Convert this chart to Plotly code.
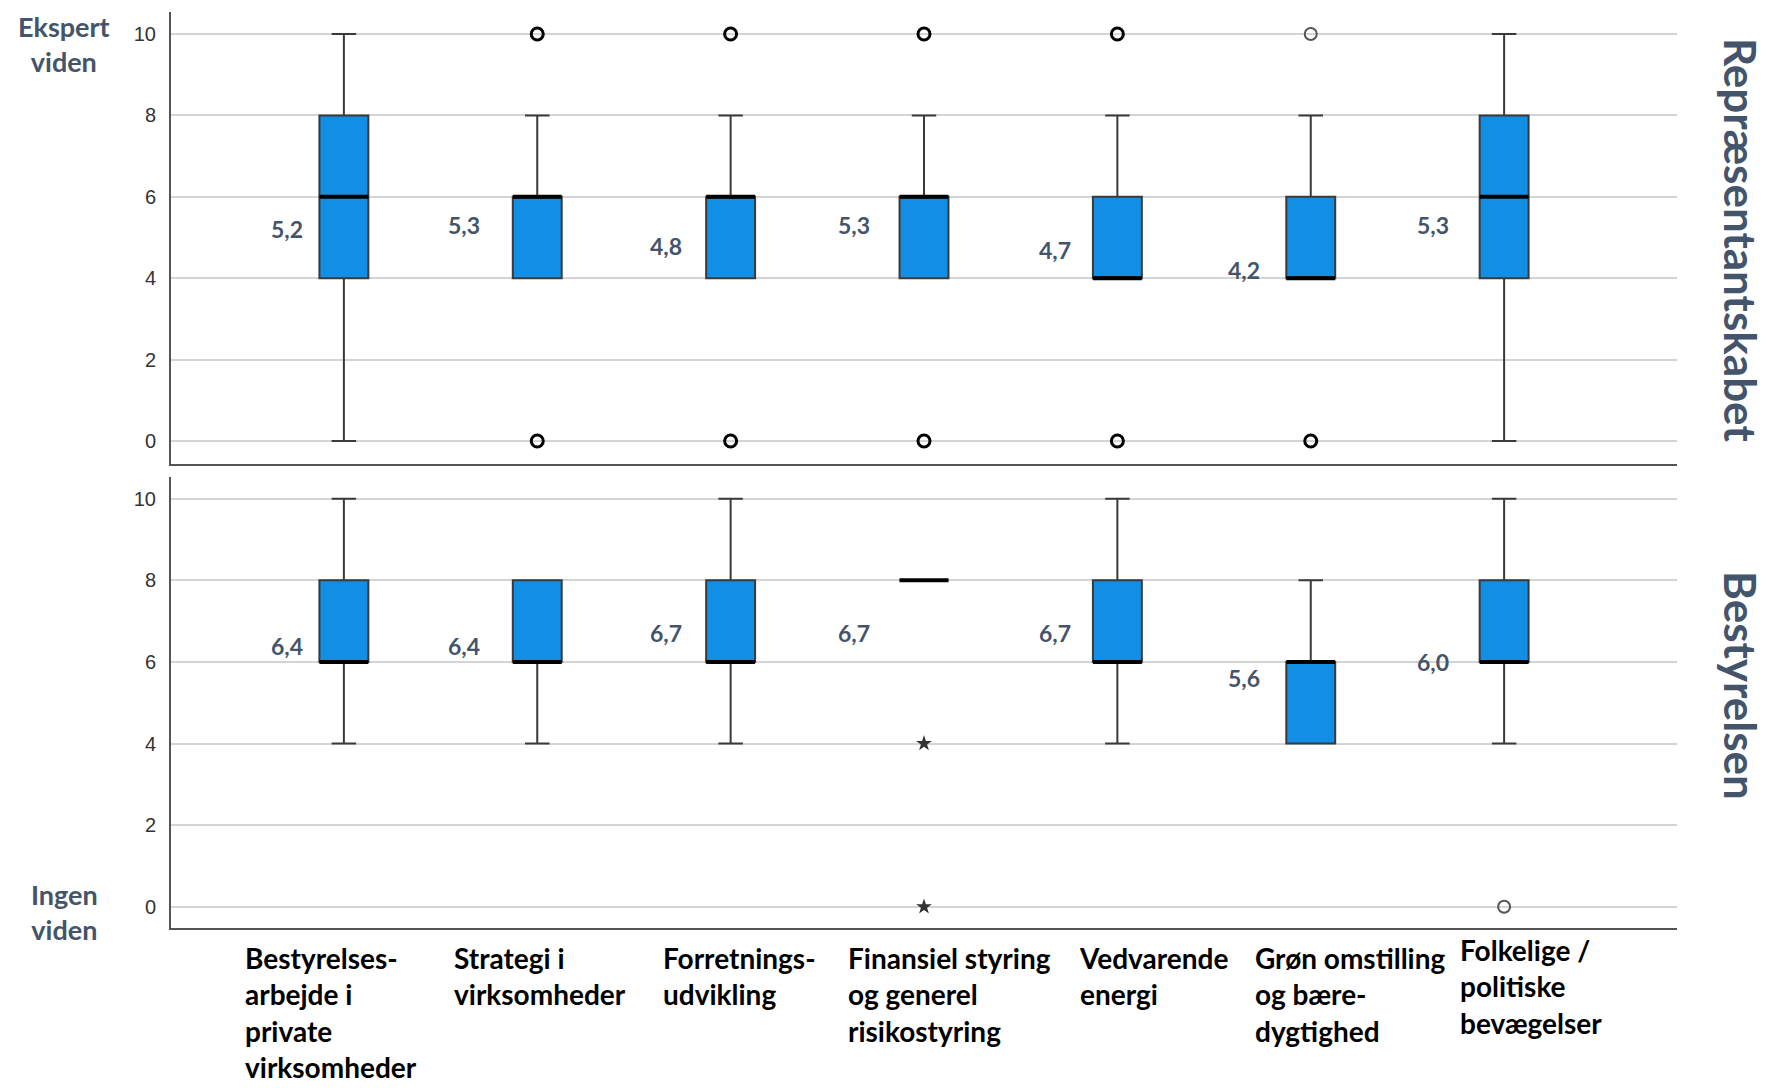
import plotly.graph_objects as go

# ---------------- data ----------------
CATEGORIES = [
    "Bestyrelses-<br>arbejde i<br>private<br>virksomheder",
    "Strategi i<br>virksomheder",
    "Forretnings-<br>udvikling",
    "Finansiel styring<br>og generel<br>risikostyring",
    "Vedvarende<br>energi",
    "Grøn omstilling<br>og bære-<br>dygtighed",
    "Folkelige /<br>politiske<br>bevægelser",
]
Y_TICKS = [0, 2, 4, 6, 8, 10]

# Repræsentantskabet (top panel)
REP_LOWER = [0, 4, 4, 4, 4, 4, 0]
REP_Q1 = [4, 4, 4, 4, 4, 4, 4]
REP_MEDIAN = [6, 6, 6, 6, 4, 4, 6]
REP_Q3 = [8, 6, 6, 6, 6, 6, 8]
REP_UPPER = [10, 8, 8, 8, 8, 8, 10]
REP_MEAN = [5.2, 5.3, 4.8, 5.3, 4.7, 4.2, 5.3]
REP_OUT_CAT = [1, 1, 2, 2, 3, 3, 4, 4, 5]
REP_OUT_VAL = [10, 0, 10, 0, 10, 0, 10, 0, 0]
REP_OUT_LIGHT_CAT = [5]
REP_OUT_LIGHT_VAL = [10]

# Bestyrelsen (bottom panel)
BES_LOWER = [4, 4, 4, 8, 4, 4, 4]
BES_Q1 = [6, 6, 6, 8, 6, 4, 6]
BES_MEDIAN = [6, 6, 6, 8, 6, 6, 6]
BES_Q3 = [8, 8, 8, 8, 8, 6, 8]
BES_UPPER = [10, 8, 10, 8, 10, 8, 10]
BES_MEAN = [6.4, 6.4, 6.7, 6.7, 6.7, 5.6, 6.0]
BES_OUT_LIGHT_CAT = [6]
BES_OUT_LIGHT_VAL = [0]
BES_EXTREME_CAT = [3, 3]
BES_EXTREME_VAL = [4, 0]

# ---------------- style / layout ----------------
PAGE_W, PAGE_H = 1767, 1088
OFF = 8                      # default page body margin
FW, FH = PAGE_W - OFF, PAGE_H - OFF
X_RANGE = [-0.894, 6.894]
BOX_W = 0.253
BOX_FILL = "#128EE5"
LINE_COL = "#3a3a3a"
LABEL_COL = "#44546A"
FONT = "Lato, 'Open Sans', sans-serif"
MEAN_DX = [-39, -55, -47, -52, -44, -49, -53]       # px, right edge of mean labels
CAT_DX = [-101, -85, -70, -78, -40, -58, -46]       # px, left edge of category labels
CAT_DY = [0, 0, 0, 0, 0, 0, 8]


def px(p):
    return (p - OFF) / FW


def py(p):
    return 1 - (p - OFF) / FH


fig = go.Figure()
xs = list(range(len(CATEGORIES)))

panels = [
    ("x", "y", REP_LOWER, REP_Q1, REP_MEDIAN, REP_Q3, REP_UPPER, REP_MEAN),
    ("x2", "y2", BES_LOWER, BES_Q1, BES_MEDIAN, BES_Q3, BES_UPPER, BES_MEAN),
]
annotations = []
for xa, ya, lo, q1, med, q3, up, mean in panels:
    fig.add_trace(go.Box(
        x=xs, lowerfence=lo, q1=q1, median=med, q3=q3, upperfence=up,
        orientation="v", width=BOX_W, whiskerwidth=0.5, boxpoints=False,
        fillcolor=BOX_FILL, line=dict(color=LINE_COL, width=2),
        xaxis=xa, yaxis=ya, showlegend=False, hoverinfo="skip",
    ))
    mx, my = [], []
    for i, m in zip(xs, med):
        mx += [i - BOX_W / 2, i + BOX_W / 2, None]
        my += [m, m, None]
    fig.add_trace(go.Scatter(
        x=mx, y=my, mode="lines", line=dict(color="black", width=4),
        xaxis=xa, yaxis=ya, showlegend=False, hoverinfo="skip",
    ))
    for i, m in zip(xs, mean):
        annotations.append(dict(
            x=i, y=m, xref=xa, yref=ya, xanchor="right", yanchor="middle",
            xshift=MEAN_DX[i], showarrow=False,
            text="<b>" + f"{m:.1f}".replace(".", ",") + "</b>",
            font=dict(family=FONT, size=23, color=LABEL_COL),
        ))


def outliers(cat, val, xa, ya, symbol, size, color, lw):
    fig.add_trace(go.Scatter(
        x=cat, y=val, mode="markers", xaxis=xa, yaxis=ya,
        marker=dict(symbol=symbol, size=size, color=color,
                    line=dict(color=color, width=lw)),
        showlegend=False, hoverinfo="skip",
    ))


outliers(REP_OUT_CAT, REP_OUT_VAL, "x", "y", "circle-open", 12, "black", 3)
outliers(REP_OUT_LIGHT_CAT, REP_OUT_LIGHT_VAL, "x", "y", "circle-open", 12, "#555555", 2)
outliers(BES_OUT_LIGHT_CAT, BES_OUT_LIGHT_VAL, "x2", "y2", "circle-open", 12, "#555555", 2)
outliers(BES_EXTREME_CAT, BES_EXTREME_VAL, "x2", "y2", "star", 12, "#333333", 0)

# category labels
for i, lab in enumerate(CATEGORIES):
    annotations.append(dict(
        x=i, y=py(939), xref="x2", yref="paper", xanchor="left", yanchor="top",
        xshift=CAT_DX[i], yshift=CAT_DY[i], align="left", showarrow=False,
        text="<b>" + lab + "</b>",
        font=dict(family=FONT, size=28, color="black"),
    ))

# side labels
annotations += [
    dict(x=px(64), y=py(8), xref="paper", yref="paper", xanchor="center", yanchor="top",
         showarrow=False, text="<b>Ekspert<br>viden</b>",
         font=dict(family=FONT, size=27, color=LABEL_COL)),
    dict(x=px(64), y=py(876), xref="paper", yref="paper", xanchor="center", yanchor="top",
         showarrow=False, text="<b>Ingen<br>viden</b>",
         font=dict(family=FONT, size=27, color=LABEL_COL)),
    dict(x=px(1741), y=py(240), xref="paper", yref="paper", xanchor="center", yanchor="middle",
         showarrow=False, textangle=90, text="<b>Repræsentantskabet</b>",
         font=dict(family=FONT, size=44, color=LABEL_COL)),
    dict(x=px(1741), y=py(685), xref="paper", yref="paper", xanchor="center", yanchor="middle",
         showarrow=False, textangle=90, text="<b>Bestyrelsen</b>",
         font=dict(family=FONT, size=44, color=LABEL_COL)),
]

xdom = [px(171), px(1677)]
xaxis_style = dict(domain=xdom, range=X_RANGE, showgrid=False, zeroline=False,
                   showticklabels=False, showline=True, linecolor="#555555",
                   linewidth=2, ticks="")
yaxis_style = dict(tickvals=Y_TICKS, showgrid=True, gridcolor="#d4d4d4", gridwidth=2,
                   zeroline=False, showline=True, linecolor="#555555", linewidth=2,
                   ticks="outside", ticklen=9, tickcolor="rgba(0,0,0,0)",
                   tickfont=dict(family="Liberation Sans, Arial", size=20, color="#333333"))

fig.update_layout(
    width=FW, height=FH, autosize=False,
    margin=dict(l=0, r=0, t=0, b=0),
    paper_bgcolor="white", plot_bgcolor="white",
    xaxis=dict(**xaxis_style, anchor="y"),
    yaxis=dict(**yaxis_style, domain=[py(464), py(12)], range=[-0.565, 10.54], anchor="x"),
    xaxis2=dict(**xaxis_style, anchor="y2"),
    yaxis2=dict(**yaxis_style, domain=[py(928), py(477)], range=[-0.52, 10.53], anchor="x2"),
    annotations=annotations,
    showlegend=False,
)

fig.write_html("out.html")
